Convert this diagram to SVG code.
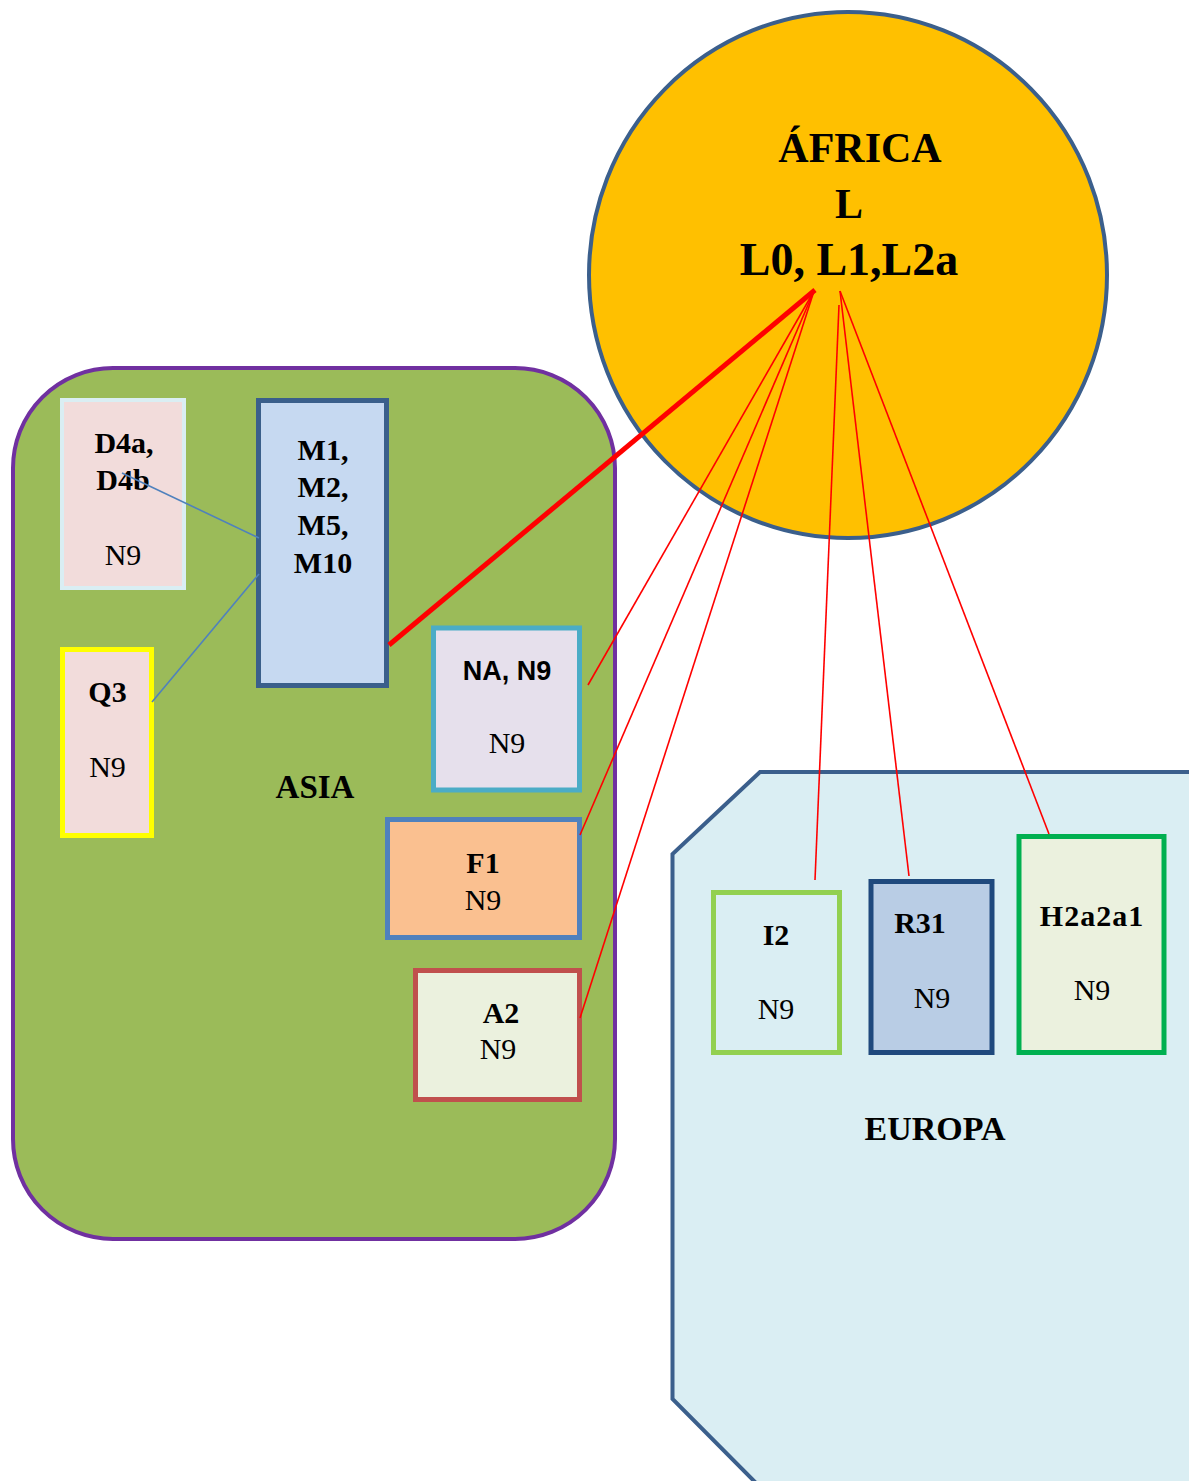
<svg xmlns="http://www.w3.org/2000/svg" width="1189" height="1481" viewBox="0 0 1189 1481">
<style>
.b{font-family:"Liberation Serif","Times New Roman",serif;font-weight:bold;font-size:30px;text-anchor:middle;fill:#000}
.r{font-family:"Liberation Serif","Times New Roman",serif;font-size:30px;text-anchor:middle;fill:#000}
.s{font-family:"Liberation Sans",Arial,sans-serif;font-weight:bold;font-size:27px;text-anchor:middle;fill:#000}
.box{stroke-width:5}
.red{stroke:#FF0000;stroke-width:1.6;fill:none}
.blue{stroke:#4F81BD;stroke-width:1.6;fill:none}
</style>
<rect width="1189" height="1481" fill="#FFFFFF"/>
<g id="asia">
<rect x="13" y="368" width="602" height="871" rx="100" ry="100" fill="#9BBB59" stroke="#7030A0" stroke-width="4"/>
<text class="b" x="315" y="798" style="font-size:33px">ASIA</text>
</g>
<g id="europa">
<polygon points="760,772 1192,772 1192,1484 757,1484 672.5,1399 672.5,854" fill="#DAEEF3" stroke="#3B5F8C" stroke-width="4"/>
<text class="b" x="935" y="1140" style="font-size:34px">EUROPA</text>
</g>
<g id="africa">
<ellipse cx="848" cy="275" rx="259" ry="263" fill="#FFC000" stroke="#3B5F8C" stroke-width="4"/>
<text class="b" x="860" y="162" style="font-size:42px">ÁFRICA</text>
<text class="b" x="849" y="218" style="font-size:42px">L</text>
<text class="b" x="849" y="275" style="font-size:46px">L0, L1,L2a</text>
</g>
<g id="d4">
<rect class="box" x="62" y="400" width="122" height="188" fill="#F2DCDB" stroke="#DAEEF3" style="stroke-width:4"/>
<text class="b" x="124" y="453">D4a,</text>
<text class="b" x="123" y="490">D4b</text>
<text class="r" x="123" y="565">N9</text>
</g>
<g id="m">
<rect class="box" x="258.5" y="400.5" width="128" height="285" fill="#C6D9F1" stroke="#3A5F8B"/>
<text class="b" x="323" y="460">M1,</text>
<text class="b" x="323" y="497">M2,</text>
<text class="b" x="323" y="535">M5,</text>
<text class="b" x="323" y="573">M10</text>
</g>
<g id="q3">
<rect class="box" x="62.5" y="649.5" width="89" height="186" fill="#F2DCDB" stroke="#FFFF00"/>
<text class="b" x="107.5" y="702">Q3</text>
<text class="r" x="107.5" y="777">N9</text>
</g>
<g id="na">
<rect class="box" x="433.5" y="628" width="146" height="162" fill="#E6E0EC" stroke="#4BACC6"/>
<text class="s" x="507" y="680">NA, N9</text>
<text class="r" x="507" y="753">N9</text>
</g>
<g id="f1">
<rect class="box" x="387.5" y="819.5" width="192" height="118" fill="#FAC090" stroke="#4F81BD"/>
<text class="b" x="483" y="873">F1</text>
<text class="r" x="483" y="910">N9</text>
</g>
<g id="a2">
<rect class="box" x="415.5" y="970.5" width="164" height="129" fill="#EBF1DE" stroke="#C0504D"/>
<text class="b" x="501" y="1023">A2</text>
<text class="r" x="498" y="1059">N9</text>
</g>
<g id="i2">
<rect class="box" x="713.5" y="892.5" width="126" height="160" fill="#DAEEF3" stroke="#92D050"/>
<text class="b" x="776" y="945">I2</text>
<text class="r" x="776" y="1019">N9</text>
</g>
<g id="r31">
<rect class="box" x="871" y="881.5" width="121" height="171" fill="#B9CDE5" stroke="#1F497D"/>
<text class="b" x="920" y="933">R31</text>
<text class="r" x="932" y="1008">N9</text>
</g>
<g id="h2">
<rect class="box" x="1019" y="836.5" width="145" height="216" fill="#EBF1DE" stroke="#00B050"/>
<text class="b" x="1092" y="926" style="letter-spacing:1px">H2a2a1</text>
<text class="r" x="1092" y="1000">N9</text>
</g>
<g id="connectors">
<line class="blue" x1="122" y1="473" x2="259" y2="538"/>
<line class="blue" x1="152" y1="702" x2="259" y2="574"/>
<line class="red" x1="814" y1="291" x2="588" y2="685"/>
<line class="red" x1="814" y1="291" x2="580" y2="835"/>
<line class="red" x1="814" y1="291" x2="580" y2="1018"/>
<line class="red" x1="839" y1="305" x2="815" y2="880"/>
<line class="red" x1="840" y1="291" x2="909" y2="876"/>
<line class="red" x1="840" y1="291" x2="1049" y2="834"/>
<line x1="389" y1="645" x2="815" y2="290" stroke="#FF0000" stroke-width="5"/>
</g>
</svg>
